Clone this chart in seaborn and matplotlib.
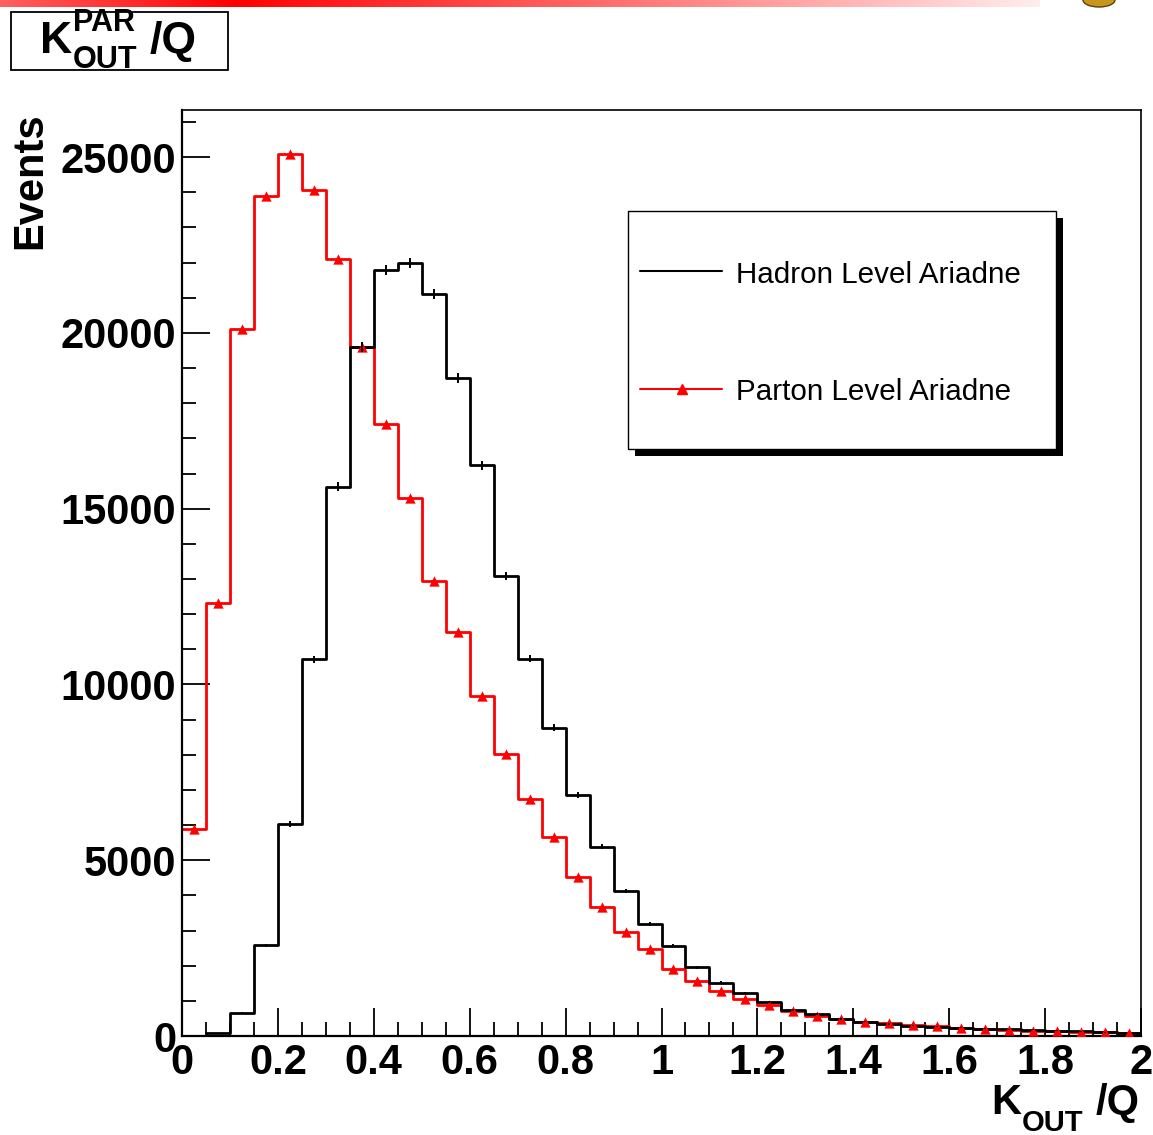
import numpy as np
import pandas as pd
import seaborn as sns
import matplotlib.pyplot as plt
from matplotlib.patches import Rectangle, Ellipse
from matplotlib.lines import Line2D
from matplotlib.ticker import MultipleLocator
from matplotlib.transforms import Affine2D

# ---- histogram contents (40 bins of width 0.05 on K_OUT/Q in [0, 2]) ----
n_bins = 40
k_range = (0.0, 2.0)
bin_edges = np.linspace(k_range[0], k_range[1], n_bins + 1)
bin_centers = 0.5 * (bin_edges[:-1] + bin_edges[1:])

hadron_level = [0, 75, 660, 2580, 6030, 10710, 15620, 19590, 21790, 21990,
                21100, 18720, 16240, 13090, 10730, 8770, 6850, 5380, 4130, 3180,
                2570, 1960, 1520, 1230, 960, 740, 620, 480, 410, 340,
                290, 260, 240, 210, 195, 175, 150, 130, 110, 90]

parton_level = [5890, 12320, 20110, 23900, 25090, 24060, 22090, 19600, 17420, 15310,
                12950, 11480, 9680, 8010, 6730, 5670, 4530, 3680, 2950, 2470,
                1920, 1575, 1290, 1060, 870, 700, 580, 490, 410, 360,
                300, 280, 240, 210, 170, 150, 140, 120, 110, 90]

series_labels = ["Hadron Level Ariadne", "Parton Level Ariadne"]
x_ticks = [0, 0.2, 0.4, 0.6, 0.8, 1.0, 1.2, 1.4, 1.6, 1.8, 2.0]
x_tick_labels = ["0", "0.2", "0.4", "0.6", "0.8", "1", "1.2", "1.4", "1.6", "1.8", "2"]
y_ticks = [0, 5000, 10000, 15000, 20000, 25000]
y_tick_labels = ["0", "5000", "10000", "15000", "20000", "25000"]

# ---- style ----
sns.set_style("white")
plt.rcParams.update({
    "font.family": ["Liberation Sans", "DejaVu Sans"],
    "text.color": "black",
    "axes.labelcolor": "black",
    "xtick.color": "black",
    "ytick.color": "black",
})

W, H = 1153, 1135
fig = plt.figure(figsize=(W / 100, H / 100), dpi=100)
fig.patch.set_facecolor("white")
# pixel coordinates on the canvas, origin top-left
pix = Affine2D().scale(1.0 / W, -1.0 / H).translate(0, 1) + fig.transFigure

ax = fig.add_axes([182 / W, 1 - 1036 / H, (1141 - 182) / W, (1036 - 110) / H])

df = pd.DataFrame({"k": bin_centers, "hadron": hadron_level, "parton": parton_level})

sns.histplot(data=df, x="k", weights="parton", bins=n_bins, binrange=k_range,
             element="step", fill=False, color="#ff0000", linewidth=2.0, ax=ax, zorder=2)
sns.histplot(data=df, x="k", weights="hadron", bins=n_bins, binrange=k_range,
             element="step", fill=False, color="black", linewidth=2.0, ax=ax, zorder=3)
ax.errorbar(df["k"], df["hadron"], yerr=np.sqrt(df["hadron"]), fmt="none",
            ecolor="black", elinewidth=1.4, capsize=0, zorder=5)
sns.scatterplot(data=df, x="k", y="parton", marker="^", color="#ff0000", s=55,
                linewidth=0, ax=ax, zorder=4)

ax.set_xlim(0, 2)
ax.set_ylim(0, 26340)
ax.set_xticks(x_ticks, x_tick_labels)
ax.set_yticks(y_ticks, y_tick_labels)
ax.xaxis.set_minor_locator(MultipleLocator(0.05))
ax.yaxis.set_minor_locator(MultipleLocator(1000))
ax.tick_params(which="both", direction="in", bottom=True, left=True,
               top=False, right=False, width=1.3, color="black")
ax.tick_params(which="major", length=20, labelsize=30, labelcolor="black")
ax.tick_params(which="minor", length=10)
ax.tick_params(axis="y", which="major", pad=4)
ax.tick_params(axis="x", which="major", pad=5)
for lbl in ax.get_xticklabels() + ax.get_yticklabels():
    lbl.set_fontweight("bold")
for side in ["left", "bottom"]:
    ax.spines[side].set_linewidth(1.6)
for side in ["top", "right"]:
    ax.spines[side].set_linewidth(1.2)
for sp in ax.spines.values():
    sp.set_color("black")

ax.set_xlabel("")
ax.set_ylabel("Events", fontsize=30, fontweight="bold", loc="top", color="black")
ax.yaxis.set_label_coords(-0.137, 0.997)


def subscripted(x, y, big, sub, tail, big_size, small_size, sup=None,
                sub_drop=20, sup_rise=22, gap=2, tail_gap=12):
    """Bold symbol with a lowered subscript (and optional superscript), then a tail."""
    renderer = fig.canvas.get_renderer()
    t = fig.text(x, y, big, transform=pix, fontsize=big_size, fontweight="bold",
                 ha="left", va="baseline", zorder=12)
    x_after = x + t.get_window_extent(renderer=renderer).width + gap
    s1 = fig.text(x_after, y + sub_drop, sub, transform=pix, fontsize=small_size,
                  fontweight="bold", ha="left", va="baseline", zorder=12)
    widths = [s1.get_window_extent(renderer=renderer).width]
    if sup is not None:
        s2 = fig.text(x_after, y - sup_rise, sup, transform=pix, fontsize=small_size,
                      fontweight="bold", ha="left", va="baseline", zorder=12)
        widths.append(s2.get_window_extent(renderer=renderer).width)
    fig.text(x_after + max(widths) + tail_gap, y, tail, transform=pix,
             fontsize=big_size, fontweight="bold", ha="left", va="baseline", zorder=12)


# x-axis title
subscripted(991, 1114, "K", "OUT", "/Q", 30, 21, sub_drop=17, gap=1, tail_gap=12)

# ---- legend box with drop shadow ----
fig.add_artist(Rectangle((635, 218), 428, 238, transform=pix,
                         facecolor="black", edgecolor="none", zorder=10))
fig.add_artist(Rectangle((628, 211), 428, 238, transform=pix,
                         facecolor="white", edgecolor="black", linewidth=1.0, zorder=11))
fig.add_artist(Line2D([640, 722], [271, 271], transform=pix, color="black",
                      linewidth=1.5, zorder=12))
fig.add_artist(Line2D([640, 722], [389, 389], transform=pix, color="#ff0000",
                      linewidth=1.5, zorder=12))
fig.add_artist(Line2D([682], [389], transform=pix, color="#ff0000", marker="^",
                      markersize=7, linewidth=0, zorder=12))
fig.text(736, 283, series_labels[0], transform=pix, fontsize=21.3, va="baseline",
         ha="left", zorder=12)
fig.text(736, 400, series_labels[1], transform=pix, fontsize=21.3, va="baseline",
         ha="left", zorder=12)

# ---- title box ----
fig.add_artist(Rectangle((11, 12), 217, 58, transform=pix, facecolor="white",
                         edgecolor="black", linewidth=1.3, zorder=10))
subscripted(40, 53, "K", "OUT", "/Q", 32, 22, sup="PAR",
            sub_drop=15, sup_rise=22, gap=1, tail_gap=12)

# ---- red header band ----
band = fig.add_axes([0, 1 - 7 / H, 1040 / W, 7 / H])
xs = np.linspace(0, 1040, 600)
mix = np.interp(xs, [0, 235, 1040], [0.38, 0.0, 0.93])
rgb = np.stack([np.ones_like(xs), mix, mix], axis=-1)[None, :, :]
band.imshow(rgb, aspect="auto", extent=[0, 1, 0, 1])
band.axis("off")
fig.add_artist(Ellipse((1099, 0), 32, 14, transform=pix, facecolor="#c8961e",
                       edgecolor="#5a4010", linewidth=1.0, zorder=10))

fig.savefig("out.png", dpi=100)
